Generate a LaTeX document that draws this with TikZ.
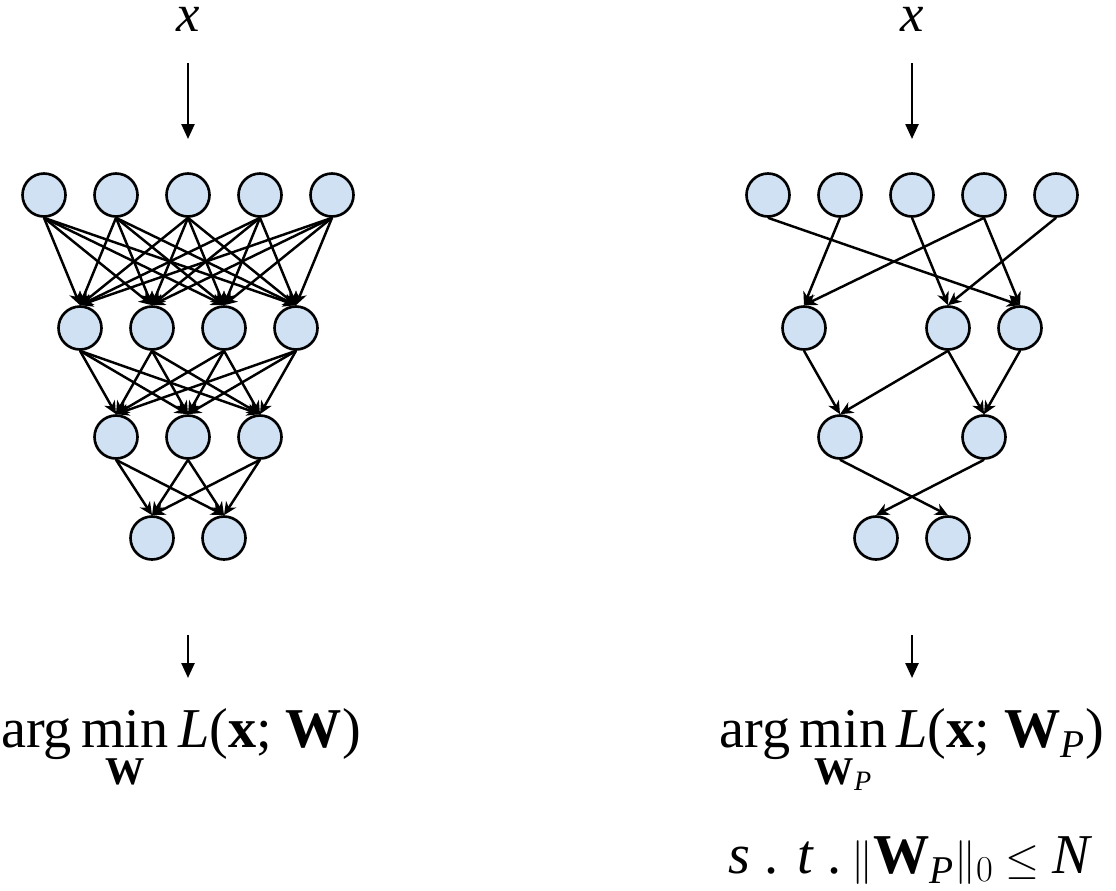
\documentclass[tikz,border=0pt]{standalone}
\usepackage{fontspec}
\setmainfont{Liberation Serif}
\usepackage{tikz}
\usetikzlibrary{arrows.meta}
\definecolor{neuronblue}{HTML}{D0E1F3}
\newcommand{\minunder}[1]{\mathop{\mathrm{min}\vphantom{g}}\limits_{#1}}
\tikzset{
  neuron/.style={circle, draw=black, line width=1.5pt, fill=neuronblue,
                 minimum size=0.86cm, inner sep=0pt},
  conn/.style={-{Stealth[length=0.26cm, width=0.24cm, inset=0.08cm]}, line width=1.4pt},
  bigarr/.style={-{Triangle[length=0.3cm, width=0.26cm]}, line width=1.4pt},
  bigmath/.style={font=\fontsize{32}{38}\selectfont, inner sep=0pt},
  inmath/.style={font=\fontsize{30}{36}\selectfont, inner sep=0pt},
}

\begin{document}
\begin{tikzpicture}
\useasboundingbox (0,0) rectangle (22.32,-17.8);
% dense network
\node[inmath, anchor=base] (xl) at (3.76,-0.62) {\textit{x}};
\coordinate (lt) at (3.76,-1.26);
\coordinate (lin) at (3.76,-2.78);
\draw[bigarr] (lt) -- (lin);
\node[neuron] (l11) at (0.88,-3.9) {};
\node[neuron] (l12) at (2.32,-3.9) {};
\node[neuron] (l13) at (3.76,-3.9) {};
\node[neuron] (l14) at (5.2,-3.9) {};
\node[neuron] (l15) at (6.64,-3.9) {};
\node[neuron] (l21) at (1.6,-6.56) {};
\node[neuron] (l22) at (3.04,-6.56) {};
\node[neuron] (l23) at (4.48,-6.56) {};
\node[neuron] (l24) at (5.92,-6.56) {};
\node[neuron] (l31) at (2.32,-8.74) {};
\node[neuron] (l32) at (3.76,-8.74) {};
\node[neuron] (l33) at (5.2,-8.74) {};
\node[neuron] (l41) at (3.04,-10.76) {};
\node[neuron] (l42) at (4.48,-10.76) {};
\draw[conn] (l11.south) -- (l21.north);
\draw[conn] (l11.south) -- (l22.north);
\draw[conn] (l11.south) -- (l23.north);
\draw[conn] (l11.south) -- (l24.north);
\draw[conn] (l12.south) -- (l21.north);
\draw[conn] (l12.south) -- (l22.north);
\draw[conn] (l12.south) -- (l23.north);
\draw[conn] (l12.south) -- (l24.north);
\draw[conn] (l13.south) -- (l21.north);
\draw[conn] (l13.south) -- (l22.north);
\draw[conn] (l13.south) -- (l23.north);
\draw[conn] (l13.south) -- (l24.north);
\draw[conn] (l14.south) -- (l21.north);
\draw[conn] (l14.south) -- (l22.north);
\draw[conn] (l14.south) -- (l23.north);
\draw[conn] (l14.south) -- (l24.north);
\draw[conn] (l15.south) -- (l21.north);
\draw[conn] (l15.south) -- (l22.north);
\draw[conn] (l15.south) -- (l23.north);
\draw[conn] (l15.south) -- (l24.north);
\draw[conn] (l21.south) -- (l31.north);
\draw[conn] (l21.south) -- (l32.north);
\draw[conn] (l21.south) -- (l33.north);
\draw[conn] (l22.south) -- (l31.north);
\draw[conn] (l22.south) -- (l32.north);
\draw[conn] (l22.south) -- (l33.north);
\draw[conn] (l23.south) -- (l31.north);
\draw[conn] (l23.south) -- (l32.north);
\draw[conn] (l23.south) -- (l33.north);
\draw[conn] (l24.south) -- (l31.north);
\draw[conn] (l24.south) -- (l32.north);
\draw[conn] (l24.south) -- (l33.north);
\draw[conn] (l31.south) -- (l41.north);
\draw[conn] (l31.south) -- (l42.north);
\draw[conn] (l32.south) -- (l41.north);
\draw[conn] (l32.south) -- (l42.north);
\draw[conn] (l33.south) -- (l41.north);
\draw[conn] (l33.south) -- (l42.north);
\coordinate (lout) at (3.76,-12.7);
\coordinate (lres) at (3.76,-13.56);
\draw[bigarr] (lout) -- (lres);
\node[bigmath, anchor=base] (lossl) at (3.62,-14.94) {arg\,$\displaystyle\minunder{\mathbf{W}}$\,\textit{L}(\textbf{x}; \textbf{W})};
% pruned network
\node[inmath, anchor=base] (xr) at (18.24,-0.62) {\textit{x}};
\coordinate (rt) at (18.24,-1.26);
\coordinate (rin) at (18.24,-2.78);
\draw[bigarr] (rt) -- (rin);
\node[neuron] (r11) at (15.36,-3.9) {};
\node[neuron] (r12) at (16.8,-3.9) {};
\node[neuron] (r13) at (18.24,-3.9) {};
\node[neuron] (r14) at (19.68,-3.9) {};
\node[neuron] (r15) at (21.12,-3.9) {};
\node[neuron] (r21) at (16.08,-6.56) {};
\node[neuron] (r22) at (18.96,-6.56) {};
\node[neuron] (r23) at (20.4,-6.56) {};
\node[neuron] (r31) at (16.8,-8.74) {};
\node[neuron] (r32) at (19.68,-8.74) {};
\node[neuron] (r41) at (17.52,-10.76) {};
\node[neuron] (r42) at (18.96,-10.76) {};
\draw[conn] (r11.south) -- (r23.north);
\draw[conn] (r12.south) -- (r21.north);
\draw[conn] (r13.south) -- (r22.north);
\draw[conn] (r14.south) -- (r21.north);
\draw[conn] (r14.south) -- (r23.north);
\draw[conn] (r15.south) -- (r22.north);
\draw[conn] (r21.south) -- (r31.north);
\draw[conn] (r22.south) -- (r31.north);
\draw[conn] (r22.south) -- (r32.north);
\draw[conn] (r23.south) -- (r32.north);
\draw[conn] (r31.south) -- (r42.north);
\draw[conn] (r32.south) -- (r41.north);
\coordinate (rout) at (18.24,-12.7);
\coordinate (rres) at (18.24,-13.56);
\draw[bigarr] (rout) -- (rres);
\node[bigmath, anchor=base] (lossr) at (18.24,-14.94) {arg\,$\displaystyle\minunder{\mathbf{W}_{\mathit{P}}}$\,\textit{L}(\textbf{x}; \textbf{W}$_{\mathit{P}}$)};
\node[bigmath, anchor=base] (constr) at (18.18,-17.46) {\textit{s} . \textit{t} .\,$\|\mathbf{W}_{\mathit{P}}\|_0\leq\mathit{N}$};
\end{tikzpicture}
\end{document}
